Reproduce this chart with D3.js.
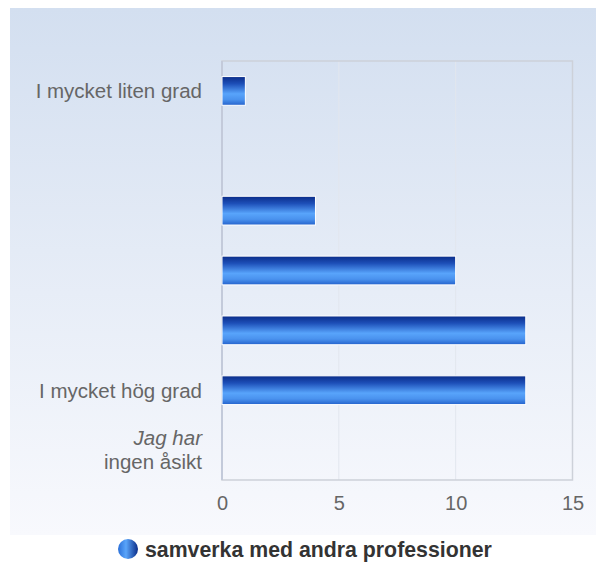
<!DOCTYPE html>
<html><head><meta charset="utf-8">
<script src="https://cdn.jsdelivr.net/npm/d3@7"></script>
<style>body{margin:0;background:#fff}svg{display:block}</style>
</head><body>
<script>
const categories = ["I mycket liten grad", "", "", "", "", "I mycket hög grad", "Jag har ingen åsikt"];
const values = [1, 0, 4, 10, 13, 13, 0];
const xTicks = [0, 5, 10, 15];
const seriesName = "samverka med andra professioner";

const W = 596, H = 563;
const m = {left: 222, right: 572.5, top: 61, bottom: 480};
const FONT = "Liberation Sans, Arial, sans-serif";
const svg = d3.select("body").append("svg").attr("width", W).attr("height", H);
const defs = svg.append("defs");

const bg = defs.append("linearGradient").attr("id","bg").attr("x1",0).attr("y1",0).attr("x2",0).attr("y2",1);
bg.append("stop").attr("offset","0%").attr("stop-color","#d3dff0");
bg.append("stop").attr("offset","100%").attr("stop-color","#f8f9fd");

const bar = defs.append("linearGradient").attr("id","bar").attr("x1",0).attr("y1",0).attr("x2",0).attr("y2",1);
[["0%","#0a2c88"],["25%","#1d4fb8"],["60%","#58a4fb"],["80%","#4a92ee"],["100%","#2462cc"]]
  .forEach(([o,c]) => bar.append("stop").attr("offset",o).attr("stop-color",c));

const leg = defs.append("linearGradient").attr("id","leg").attr("x1",0).attr("y1",0).attr("x2",1).attr("y2",0);
[["0%","#2a6fd8"],["40%","#5aa5fa"],["100%","#0a2c88"]]
  .forEach(([o,c]) => leg.append("stop").attr("offset",o).attr("stop-color",c));

svg.append("rect").attr("x",10).attr("y",8).attr("width",W-10).attr("height",527).attr("fill","url(#bg)");

const x = d3.scaleLinear().domain([0, 15]).range([m.left, m.right]);
const y = d3.scaleBand().domain(d3.range(categories.length)).range([m.top, m.bottom]).paddingInner(0.52).paddingOuter(0.26);

// grid
svg.append("g").selectAll("line").data(xTicks.slice(1, -1)).join("line")
  .attr("x1", d => x(d)).attr("x2", d => x(d)).attr("y1", m.top).attr("y2", m.bottom)
  .attr("stroke", "#e2e6ee").attr("stroke-width", 1);

// plot border
svg.append("rect").attr("x", m.left).attr("y", m.top).attr("width", m.right - m.left).attr("height", m.bottom - m.top)
  .attr("fill","none").attr("stroke","#cdd1d9").attr("stroke-width",1.5);
svg.append("line").attr("x1", m.left).attr("x2", m.left).attr("y1", m.top).attr("y2", m.bottom)
  .attr("stroke","#c3cada").attr("stroke-width",2);

// bars
svg.append("g").selectAll("rect").data(values.map((v,i)=>({v,i})).filter(d=>d.v>0)).join("rect")
  .attr("x", x(0)).attr("y", d => y(d.i)).attr("width", d => x(d.v) - x(0)).attr("height", y.bandwidth())
  .attr("fill","url(#bar)").attr("stroke","#ffffff").attr("stroke-width",1);

// category labels
const lab = svg.append("g").attr("font-family",FONT).attr("font-size",20.5).attr("fill","#666").attr("text-anchor","end");
categories.forEach((c, i) => {
  const cy = y(i) + y.bandwidth()/2;
  if (c === "Jag har ingen åsikt") {
    lab.append("text").attr("x", 202).attr("y", cy - 5).attr("font-style","italic").text("Jag har");
    lab.append("text").attr("x", 202).attr("y", cy + 19).text("ingen åsikt");
  } else if (c) {
    lab.append("text").attr("x", 202).attr("y", cy + 7.5).text(c);
  }
});

// x axis ticks
const xa = svg.append("g").attr("transform", `translate(0,${m.bottom})`)
  .call(d3.axisBottom(x).tickValues(xTicks).tickSize(0));
xa.select(".domain").remove();
xa.selectAll("text").attr("font-family",FONT).attr("font-size",20).attr("fill","#666")
  .attr("y", 30).attr("dy", 0);

// legend
const lg = svg.append("g");
lg.append("circle").attr("cx",128).attr("cy",549).attr("r",10).attr("fill","url(#leg)");
lg.append("text").attr("x",145).attr("y",557).attr("font-family",FONT)
  .attr("font-size",21.3).attr("font-weight","bold").attr("fill","#333").text(seriesName);
</script>
</body></html>
